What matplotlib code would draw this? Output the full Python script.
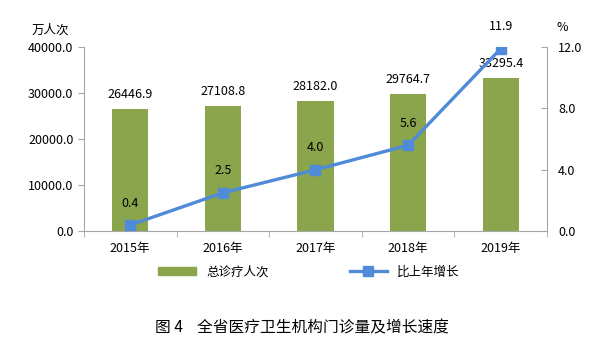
import numpy as np
import matplotlib.pyplot as plt
from matplotlib.lines import Line2D
from matplotlib.patches import Patch

plt.rcParams['font.family'] = ['Noto Sans CJK SC', 'DejaVu Sans']

years = ['2015年', '2016年', '2017年', '2018年', '2019年']
visits = [26446.9, 27108.8, 28182.0, 29764.7, 33295.4]
growth = [0.4, 2.5, 4.0, 5.6, 11.9]

bar_color = '#8BA54C'
line_color = '#4F8BD8'
axis_color = '#A6A6A6'

fig = plt.figure(figsize=(6.12, 3.54), dpi=100)
ax = fig.add_axes([0.137, 0.347, 0.757, 0.52])
x = np.arange(len(years))
ax.bar(x, visits, width=0.39, color=bar_color, zorder=2)
ax.set_xlim(-0.5, len(years) - 0.5)
ax.set_ylim(0, 40000)
ax.set_yticks(np.arange(0, 40001, 10000))
ax.set_yticklabels([f'{v:.1f}' for v in np.arange(0, 40001, 10000)], fontsize=9)
ax.set_xticks(x)
ax.set_xticklabels(years, fontsize=9)
ax.set_xticks(np.arange(-0.5, len(years), 1), minor=True)
ax.tick_params(axis='x', which='major', length=0, pad=8)
ax.tick_params(axis='x', which='minor', length=4, color=axis_color)
ax.tick_params(axis='y', length=4, color=axis_color)
for s in ['top', 'right']:
    ax.spines[s].set_visible(False)
for s in ['left', 'bottom']:
    ax.spines[s].set_color(axis_color)
for xi, v in zip(x, visits):
    ax.text(xi, v + 1800, f'{v:.1f}', ha='center', va='bottom', fontsize=9)

ax2 = ax.twinx()
ax2.plot(x, growth, color=line_color, lw=2.4, marker='s', ms=7, zorder=3)
ax2.set_ylim(0, 12)
ax2.set_yticks([0, 4, 8, 12])
ax2.set_yticklabels([f'{v:.1f}' for v in [0, 4, 8, 12]], fontsize=9)
ax2.tick_params(axis='y', direction='in', length=4, color=axis_color, pad=8)
for s in ['top', 'left', 'bottom']:
    ax2.spines[s].set_visible(False)
ax2.spines['right'].set_color(axis_color)
for xi, g in zip(x, growth):
    ax2.text(xi, g + 1.0, f'{g:.1f}', ha='center', va='bottom', fontsize=9)

fig.text(0.082, 0.915, '万人次', fontsize=9, ha='center', va='center')
fig.text(0.918, 0.922, '%', fontsize=9, ha='center', va='center')

handles = [Patch(color=bar_color),
           Line2D([0], [0], color=line_color, lw=2.4, marker='s', ms=7)]
fig.legend(handles, ['总诊疗人次', '比上年增长'], loc='center', bbox_to_anchor=(0.505, 0.232),
           ncol=2, frameon=False, fontsize=9, columnspacing=6.5, handlelength=3)

fig.text(0.494, 0.075, '图 4    全省医疗卫生机构门诊量及增长速度', fontsize=11.3, ha='center', va='center')

fig.savefig('out.png', dpi=100)
